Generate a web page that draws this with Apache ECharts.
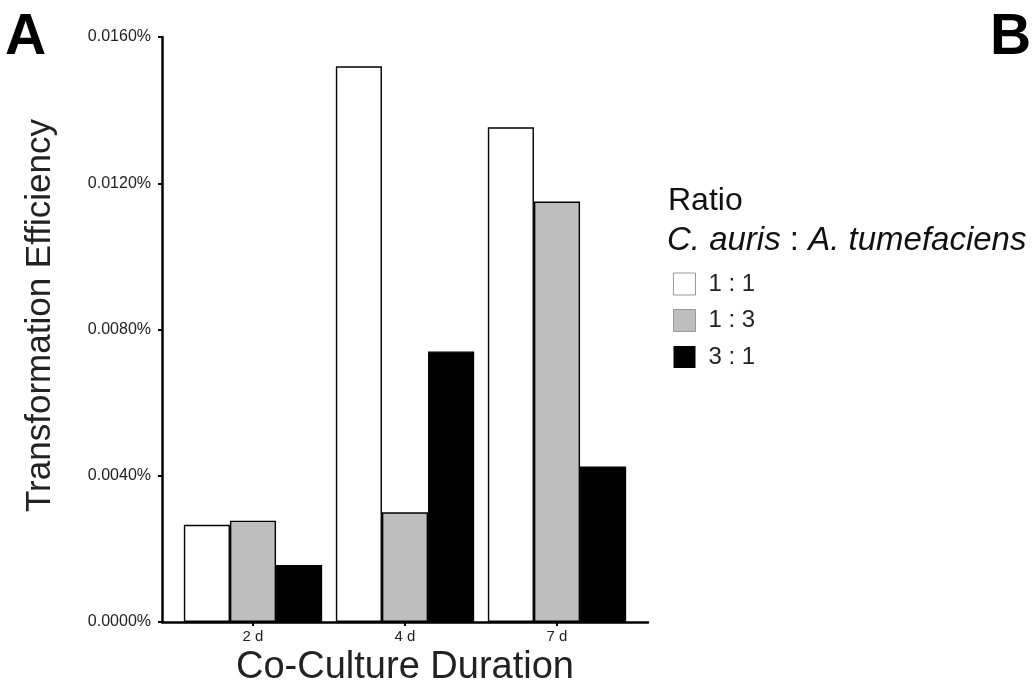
<!DOCTYPE html>
<html>
<head>
<meta charset="utf-8">
<script src="https://cdn.jsdelivr.net/npm/echarts@6/dist/echarts.min.js"></script>
<style>html,body{margin:0;padding:0;background:#fff}#c{width:1032px;height:686px}</style>
</head>
<body>
<div id="c"></div>
<script>
const categories = ['2 d', '4 d', '7 d'];
const seriesNames = ['1 : 1', '1 : 3', '3 : 1'];
const ratio11 = [0.00266, 0.0152, 0.01353];
const ratio13 = [0.00277, 0.0030, 0.0115];
const ratio31 = [0.00156, 0.0074, 0.00425];
const yTicks = { min: 0, max: 0.016, interval: 0.004 };

const FONT = '"Liberation Sans", Arial, sans-serif';
const fills = ['#ffffff', '#bebebe', '#000000'];
const values = [ratio11, ratio13, ratio31];

const chart = echarts.init(document.getElementById('c'), null, { renderer: 'canvas' });
chart.setOption({
  animation: false,
  backgroundColor: '#fff',
  textStyle: { fontFamily: FONT },
  grid: [
    { left: 177, right: 399, top: 37, bottom: 64, containLabel: false, outerBoundsMode: 'none' },
    { left: 162, right: 384, top: 37, bottom: 64, containLabel: false, outerBoundsMode: 'none' }
  ],
  xAxis: [
    {
      type: 'category', gridIndex: 0, data: categories,
      axisLine: { show: false },
      axisTick: { show: true, alignWithLabel: true, length: 4, lineStyle: { color: '#000', width: 2 } },
      axisLabel: { fontSize: 15, color: '#222', margin: 7, fontFamily: FONT },
      name: 'Co-Culture Duration', nameLocation: 'middle', nameGap: 21,
      nameTextStyle: { fontSize: 38, color: '#222', fontFamily: FONT, verticalAlign: 'top' }
    },
    {
      type: 'category', gridIndex: 1, data: [''],
      axisLine: { show: true, lineStyle: { color: '#000', width: 2.5 } },
      axisTick: { show: false }, axisLabel: { show: false }
    }
  ],
  yAxis: [
    {
      type: 'value', gridIndex: 0, min: yTicks.min, max: yTicks.max, interval: yTicks.interval,
      offset: 15,
      axisLine: { show: true, lineStyle: { color: '#000', width: 2.5 } },
      axisTick: { show: true, length: 4, lineStyle: { color: '#000', width: 2 } },
      splitLine: { show: false },
      axisLabel: { fontSize: 16, color: '#222', margin: 11, fontFamily: FONT,
        formatter: v => v.toFixed(4) + '%' },
      name: 'Transformation Efficiency', nameLocation: 'middle', nameGap: 104,
      nameTextStyle: { fontSize: 35, color: '#222', fontFamily: FONT, padding: [0, 0, 0, 28] }
    },
    { type: 'value', gridIndex: 1, min: 0, max: 1, show: false }
  ],
  legend: {
    orient: 'vertical', left: 668, top: 267, itemWidth: 22, itemHeight: 22, itemGap: 12.5,
    selectedMode: false, icon: 'rect',
    textStyle: { fontSize: 24, color: '#222', fontFamily: FONT, padding: [0, 0, 0, 8] },
    data: [
      { name: seriesNames[0], itemStyle: { color: '#fff', borderColor: '#999', borderWidth: 1 } },
      { name: seriesNames[1], itemStyle: { color: '#bebebe', borderColor: '#999', borderWidth: 1 } },
      { name: seriesNames[2], itemStyle: { color: '#000', borderColor: '#000', borderWidth: 0 } }
    ]
  },
  series: seriesNames.map((n, i) => ({
    name: n, type: 'bar', xAxisIndex: 0, yAxisIndex: 0,
    data: values[i],
    barGap: '0%', barCategoryGap: '9%',
    itemStyle: { color: fills[i], borderColor: '#000', borderWidth: 1.4 }
  })),
  graphic: [
    { type: 'text', left: 5, top: 10, style: { text: 'A', font: 'bold 57px ' + FONT, fill: '#000' } },
    { type: 'text', left: 990, top: 10, style: { text: 'B', font: 'bold 57px ' + FONT, fill: '#000' } },
    { type: 'text', left: 668, top: 185, style: { text: 'Ratio', font: '32px ' + FONT, fill: '#111' } },
    { type: 'text', left: 667, top: 224, style: {
        text: '{i|C. auris} : {i|A. tumefaciens}',
        font: '33px ' + FONT, fill: '#111',
        rich: { i: { fontStyle: 'italic', fontSize: 33, fontFamily: FONT, fill: '#111' } }
      } }
  ]
});
</script>
</body>
</html>
